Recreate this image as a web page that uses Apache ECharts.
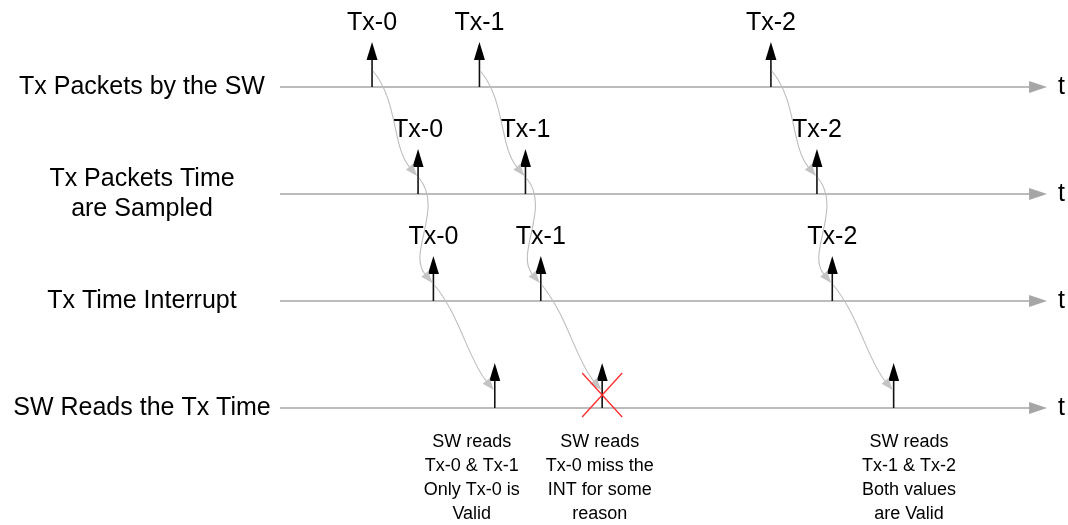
<!DOCTYPE html>
<html>
<head>
<meta charset="utf-8">
<script src="https://cdn.jsdelivr.net/npm/echarts@6/dist/echarts.min.js"></script>
<style>
  html, body { margin: 0; padding: 0; background: #fff; }
  #chart { width: 1068px; height: 525px; }
</style>
</head>
<body>
<div id="chart"></div>
<script>
// rows of the timing diagram
const rowNames = ['Tx Packets by the SW', 'Tx Packets Time\nare Sampled', 'Tx Time Interrupt', 'SW Reads the Tx Time'];
const txLabels = ['Tx-0', 'Tx-1', 'Tx-2'];
// event times on each row (time axis 0..100)
const swSendTimes = [12, 26, 64];
const sampleTimes = [18, 32, 70];
const interruptTimes = [20, 34, 72];
const readTimes = [28, 42, 80];
// notes under the last row
const noteTimes = [25, 41.7, 82];
const noteTexts = [
  'SW reads\nTx-0 & Tx-1\nOnly Tx-0 is\nValid',
  'SW reads\nTx-0 miss the\nINT for some\nreason',
  'SW reads\nTx-1 & Tx-2\nBoth values\nare Valid'
];
// the read that failed: [time, row]
const missedRead = [42, 3];

const FONT = 'Liberation Sans, Arial, sans-serif';
const rowTimes = [swSendTimes, sampleTimes, interruptTimes, readTimes];

const eventData = [];
const eventLabels = [];
rowTimes.forEach((times, r) => {
  times.forEach((t, i) => {
    eventData.push([t, r]);
    eventLabels.push(r < 3 ? txLabels[i] : '');
  });
});

const linkData = [];
for (let r = 0; r < 3; r++) {
  for (let i = 0; i < 3; i++) {
    linkData.push([rowTimes[r][i], r, rowTimes[r + 1][i], r + 1]);
  }
}

const chart = echarts.init(document.getElementById('chart'));

const option = {
  animation: false,
  grid: { left: 280, right: 20, top: 87, bottom: 117 },
  xAxis: { type: 'value', min: 0, max: 100, show: false },
  yAxis: [
    {
      type: 'category',
      data: rowNames,
      inverse: true,
      boundaryGap: false,
      axisLine: { show: false },
      axisTick: { show: false },
      splitLine: { show: false },
      axisLabel: {
        margin: 138,
        align: 'center',
        fontSize: 25,
        lineHeight: 30,
        fontFamily: FONT,
        color: '#000'
      }
    },
    {
      type: 'category',
      data: rowNames,
      inverse: true,
      boundaryGap: false,
      position: 'right',
      axisLine: { show: false },
      axisTick: { show: false },
      splitLine: { show: false },
      axisLabel: {
        margin: 11,
        formatter: () => 't',
        fontSize: 25,
        fontFamily: FONT,
        color: '#000'
      }
    }
  ],
  series: [
    // time lines with arrow at the end
    {
      type: 'custom',
      data: rowNames.map((n, i) => [i]),
      encode: { y: 0 },
      z: 1,
      renderItem(params, api) {
        const a = api.coord([0, api.value(0)]);
        const b = api.coord([100, api.value(0)]);
        return {
          type: 'group',
          children: [
            { type: 'line', shape: { x1: a[0], y1: a[1], x2: b[0] - 17, y2: b[1] }, style: { stroke: '#a6a6a6', lineWidth: 1.5 } },
            { type: 'polygon', shape: { points: [[b[0], b[1]], [b[0] - 18, b[1] - 6], [b[0] - 18, b[1] + 6]] }, style: { fill: '#a6a6a6' } }
          ]
        };
      }
    },
    // event arrows
    {
      type: 'custom',
      data: eventData,
      encode: { x: 0, y: 1 },
      z: 2,
      renderItem(params, api) {
        const p = api.coord([api.value(0), api.value(1)]);
        const label = eventLabels[params.dataIndex];
        const children = [
          { type: 'line', shape: { x1: p[0], y1: p[1], x2: p[0], y2: p[1] - 28 }, style: { stroke: '#111', lineWidth: 1.6 } },
          { type: 'polygon', shape: { points: [[p[0], p[1] - 45], [p[0] - 5.5, p[1] - 27], [p[0] + 5.5, p[1] - 27]] }, style: { fill: '#000' } }
        ];
        if (label) {
          children.push({
            type: 'text',
            style: { text: label, x: p[0], y: p[1] - 64, align: 'center', verticalAlign: 'middle', fontSize: 25, fontFamily: FONT, fill: '#000' }
          });
        }
        return { type: 'group', children };
      }
    },
    // curved links between rows
    {
      type: 'custom',
      data: linkData,
      encode: { x: [0, 2], y: [1, 3] },
      z: 3,
      renderItem(params, api) {
        const s = api.coord([api.value(0), api.value(1)]);
        const e = api.coord([api.value(2), api.value(3)]);
        const x0 = s[0] + 1, y0 = s[1] - 16;
        const x3 = e[0] - 1, y3 = e[1] - 18;
        const cx1 = x0 + 25, cy1 = y0 + 30;
        const cx2 = x3 - 25, cy2 = y3 - 30;
        let dx = x3 - cx2, dy = y3 - cy2;
        const len = Math.sqrt(dx * dx + dy * dy);
        dx /= len; dy /= len;
        const bx = x3 - dx * 12, by = y3 - dy * 12;
        const nx = -dy * 4.5, ny = dx * 4.5;
        return {
          type: 'group',
          children: [
            { type: 'bezierCurve', shape: { x1: x0, y1: y0, cpx1: cx1, cpy1: cy1, cpx2: cx2, cpy2: cy2, x2: bx, y2: by }, style: { stroke: '#bdbdbd', lineWidth: 1.1, fill: null } },
            { type: 'polygon', shape: { points: [[x3, y3], [bx + nx, by + ny], [bx - nx, by - ny]] }, style: { fill: '#c4c4c4' } }
          ]
        };
      }
    },
    // notes under the last row
    {
      type: 'custom',
      data: noteTimes.map(t => [t, 3]),
      encode: { x: 0, y: 1 },
      z: 2,
      renderItem(params, api) {
        const p = api.coord([api.value(0), api.value(1)]);
        return {
          type: 'text',
          style: {
            text: noteTexts[params.dataIndex], x: p[0], y: p[1] + 22,
            align: 'center', verticalAlign: 'top', fontSize: 18, lineHeight: 24,
            fontFamily: FONT, fill: '#000'
          }
        };
      }
    },
    // red cross on the missed read
    {
      type: 'custom',
      data: [missedRead],
      encode: { x: 0, y: 1 },
      z: 4,
      renderItem(params, api) {
        const p = api.coord([api.value(0), api.value(1)]);
        const cx = p[0], cy = p[1] - 13;
        const st = { stroke: '#ff2b2b', lineWidth: 1.3 };
        return {
          type: 'group',
          children: [
            { type: 'line', shape: { x1: cx - 20, y1: cy - 22, x2: cx + 20, y2: cy + 22 }, style: st },
            { type: 'line', shape: { x1: cx + 20, y1: cy - 22, x2: cx - 20, y2: cy + 22 }, style: st }
          ]
        };
      }
    }
  ]
};

chart.setOption(option);
</script>
</body>
</html>
